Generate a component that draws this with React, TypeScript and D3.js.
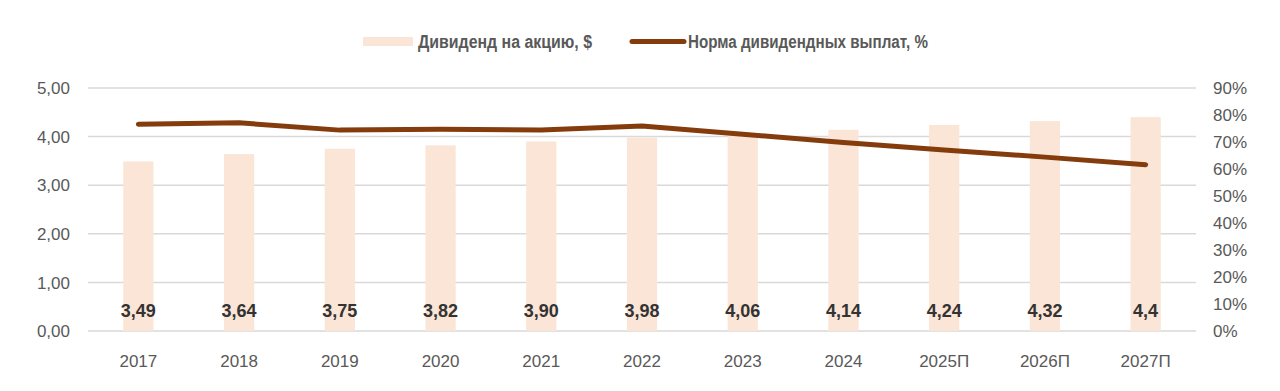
import * as d3 from "d3";
import { useRef, useEffect } from "react";

const years = ["2017", "2018", "2019", "2020", "2021", "2022", "2023", "2024", "2025П", "2026П", "2027П"];
const dividend = [3.49, 3.64, 3.75, 3.82, 3.9, 3.98, 4.06, 4.14, 4.24, 4.32, 4.4];
const dividendLabels = ["3,49", "3,64", "3,75", "3,82", "3,90", "3,98", "4,06", "4,14", "4,24", "4,32", "4,4"];
const payoutRatio = [76.6, 77.1, 74.4, 74.7, 74.4, 75.9, 72.9, 69.8, 67.0, 64.4, 61.6];
const leftTicks = [0, 1, 2, 3, 4, 5];
const rightTicks = [0, 10, 20, 30, 40, 50, 60, 70, 80, 90];

const BAR = "#FBE5D6";
const LINE = "#843C0C";
const GREY = "#595959";

const App = () => {
    const ref = useRef(null);

    useEffect(() => {
        const W = 1280;
        const H = 391;
        const left = 88;
        const right = 1196;
        const top = 88;
        const bottom = 331;

        d3.select(ref.current).select("svg").remove();

        const svg = d3.select(ref.current)
            .append("svg")
            .attr("width", W)
            .attr("height", H)
            .style("display", "block")
            .style("background", "#fff")
            .style("font-family", "'Liberation Sans', Arial, sans-serif");

        const x = d3.scaleBand()
            .domain(years)
            .range([left, right])
            .paddingInner(0.7)
            .paddingOuter(0.35);

        const y = d3.scaleLinear().domain([0, 5]).range([bottom, top]);
        const y2 = d3.scaleLinear().domain([0, 90]).range([bottom, top]);

        // gridlines
        svg.append("g")
            .selectAll("line")
            .data(leftTicks)
            .join("line")
            .attr("x1", left)
            .attr("x2", right)
            .attr("y1", d => y(d))
            .attr("y2", d => y(d))
            .attr("stroke", "#D9D9D9")
            .attr("stroke-width", 1.5);

        // left axis
        svg.append("g")
            .selectAll("text")
            .data(leftTicks)
            .join("text")
            .attr("x", 70)
            .attr("y", d => y(d))
            .attr("dy", "0.36em")
            .attr("text-anchor", "end")
            .attr("fill", GREY)
            .attr("font-size", 17)
            .text(d => d3.format(".2f")(d).replace(".", ","));

        // right axis
        svg.append("g")
            .selectAll("text")
            .data(rightTicks)
            .join("text")
            .attr("x", 1213)
            .attr("y", d => y2(d))
            .attr("dy", "0.36em")
            .attr("fill", GREY)
            .attr("font-size", 17)
            .text(d => d + "%");

        // bars
        svg.append("g")
            .selectAll("rect")
            .data(dividend)
            .join("rect")
            .attr("x", (d, i) => x(years[i]))
            .attr("y", d => y(d))
            .attr("width", x.bandwidth())
            .attr("height", d => bottom - y(d))
            .attr("fill", BAR);

        // data labels
        svg.append("g")
            .selectAll("text")
            .data(dividendLabels)
            .join("text")
            .attr("x", (d, i) => x(years[i]) + x.bandwidth() / 2)
            .attr("y", 317)
            .attr("text-anchor", "middle")
            .attr("fill", "#333")
            .attr("font-size", 18)
            .attr("font-weight", "bold")
            .text(d => d);

        // x labels
        svg.append("g")
            .selectAll("text")
            .data(years)
            .join("text")
            .attr("x", d => x(d) + x.bandwidth() / 2)
            .attr("y", 367)
            .attr("text-anchor", "middle")
            .attr("fill", GREY)
            .attr("font-size", 17)
            .text(d => d);

        // payout ratio line
        const line = d3.line()
            .x((d, i) => x(years[i]) + x.bandwidth() / 2)
            .y(d => y2(d));

        svg.append("path")
            .datum(payoutRatio)
            .attr("fill", "none")
            .attr("stroke", LINE)
            .attr("stroke-width", 5)
            .attr("stroke-linecap", "round")
            .attr("stroke-linejoin", "round")
            .attr("d", line);

        // legend (condensed text in the original)
        const legend = svg.append("g")
            .attr("font-size", 18)
            .attr("font-weight", "bold")
            .attr("fill", GREY);

        legend.append("rect")
            .attr("x", 363).attr("y", 37)
            .attr("width", 50).attr("height", 9)
            .attr("fill", BAR);
        legend.append("text")
            .attr("x", 418).attr("y", 48)
            .attr("textLength", 174)
            .attr("lengthAdjust", "spacingAndGlyphs")
            .text("Дивиденд на акцию, $");

        legend.append("line")
            .attr("x1", 632).attr("x2", 684)
            .attr("y1", 41.5).attr("y2", 41.5)
            .attr("stroke", LINE)
            .attr("stroke-width", 5)
            .attr("stroke-linecap", "round");
        legend.append("text")
            .attr("x", 688).attr("y", 48)
            .attr("textLength", 240)
            .attr("lengthAdjust", "spacingAndGlyphs")
            .text("Норма дивидендных выплат, %");

        return () => {
            d3.select(ref.current).select("svg").remove();
        };
    }, []);

    return (
        <div ref={ref} style={{ position: "absolute", left: 0, top: 0 }}></div>
    );
};

export default App;
